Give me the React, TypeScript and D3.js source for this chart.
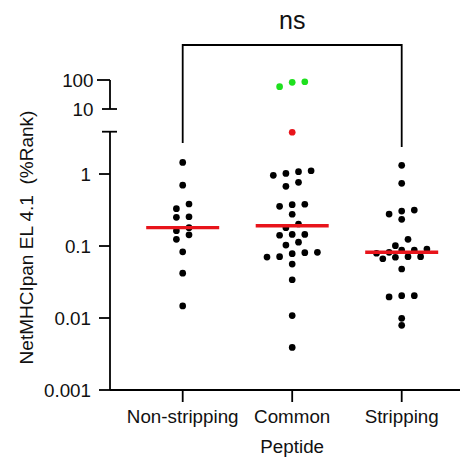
import React from "react";
import * as d3 from "d3";

const categories = ["Non-stripping", "Common", "Stripping"];
const nonStripping = [1.45, 0.7, 0.383, 0.33, 0.255, 0.25, 0.18, 0.163, 0.143, 0.124, 0.083, 0.042, 0.0147];
const commonBlack = [1.11, 1.076, 1.02, 0.959, 0.767, 0.675, 0.38, 0.375, 0.356, 0.276, 0.202, 0.18, 0.145, 0.145, 0.141, 0.113, 0.103, 0.0818, 0.0809, 0.0783, 0.0711, 0.0703, 0.0562, 0.034, 0.0108, 0.0039];
const commonRed = [3.8];
const commonGreen = [83, 87, 59];
const stripping = [1.32, 0.743, 0.316, 0.306, 0.278, 0.235, 0.124, 0.101, 0.0906, 0.0879, 0.0879, 0.0818, 0.0793, 0.071, 0.071, 0.0698, 0.0665, 0.0479, 0.0204, 0.0204, 0.0196, 0.0099, 0.0079];
const lowerTicks = [1, 0.1, 0.01, 0.001];
const lowerTickLabels = ["1", "0.1", "0.01", "0.001"];
const upperTicks = [100, 10];
const upperTickLabels = ["100", "10"];
const yTitle = "NetMHCIpan EL 4.1  (%Rank)";
const xTitle = "Peptide";
const sigLabel = "ns";

const W = 468;
const H = 459;
const FONT = "'Liberation Sans', Arial, sans-serif";
const BLACK = "#000";
const RED = "#e8141b";
const GREEN = "#1ee01e";

const axisX = 110;
const axisY = 390;
const xEnd = 460;

const yLower = d3.scaleLog().domain([0.001, 3.87]).range([axisY, 131.7]);
const yUpper = d3.scaleLog().domain([10, 100]).range([109, 80]);
const yOf = (v: number) => (v >= 10 ? yUpper(v) : yLower(v));

const x = d3.scalePoint<string>().domain(categories).range([182.7, 401.7]);

type Pt = { v: number; color: string; y: number; dx: number };

function layout(points: { v: number; color: string }[]): Pt[] {
  const pts: Pt[] = points.map((p) => ({ ...p, y: yOf(p.v), dx: 0 }));
  pts.sort((a, b) => a.y - b.y);
  const rows: Pt[][] = [];
  let cur: Pt[] = [];
  let start = -Infinity;
  for (const p of pts) {
    if (p.y - start > 6.5) {
      if (cur.length) rows.push(cur);
      cur = [p];
      start = p.y;
    } else cur.push(p);
  }
  if (cur.length) rows.push(cur);
  const step = 12.6;
  const placed: Pt[] = [];
  for (const row of rows) {
    row.sort((a, b) => a.v - b.v);
    const n = row.length;
    const base = row.map((_, i) => (i - (n - 1) / 2) * step);
    const shifts = [0, step / 2, -step / 2, step, -step];
    let chosen = 0;
    for (const s of shifts) {
      const ok = row.every((p, i) =>
        placed.every((q) => Math.hypot(base[i] + s - q.dx, p.y - q.y) >= 6.4)
      );
      if (ok) {
        chosen = s;
        break;
      }
    }
    row.forEach((p, i) => {
      p.dx = base[i] + chosen;
      placed.push(p);
    });
  }
  return pts;
}

const groups = [
  { cat: categories[0], pts: nonStripping.map((v) => ({ v, color: BLACK })) },
  {
    cat: categories[1],
    pts: [
      ...commonBlack.map((v) => ({ v, color: BLACK })),
      ...commonRed.map((v) => ({ v, color: RED })),
      ...commonGreen.map((v) => ({ v, color: GREEN })),
    ],
  },
  { cat: categories[2], pts: stripping.map((v) => ({ v, color: BLACK })) },
];

export default function App() {
  const sw = 1.8;
  return (
    <svg width={W} height={H} style={{ position: "absolute", left: 0, top: 0, background: "#fff" }} fontFamily={FONT}>
      <rect x={0} y={0} width={W} height={H} fill="#fff" />
      <path
        d={`M${x(categories[0])},143 V45 H${x(categories[2])} V147`}
        fill="none"
        stroke={BLACK}
        strokeWidth={sw}
      />
      <text x={x(categories[1])} y={28.5} fontSize={25} textAnchor="middle" fill="#111">
        {sigLabel}
      </text>
      <line x1={axisX} x2={axisX} y1={axisY} y2={yLower(3.87)} stroke={BLACK} strokeWidth={sw} />
      <line x1={axisX - 8} x2={axisX + 7} y1={yLower(3.87)} y2={yLower(3.87)} stroke={BLACK} strokeWidth={sw} />
      {lowerTicks.map((t, i) => (
        <g key={"lt" + i}>
          <line x1={axisX - 11} x2={axisX} y1={yLower(t)} y2={yLower(t)} stroke={BLACK} strokeWidth={sw} />
          <text x={91} y={yLower(t)} dy="0.36em" fontSize={18.8} textAnchor="end" fill="#111">
            {lowerTickLabels[i]}
          </text>
        </g>
      ))}
      <line x1={axisX} x2={axisX} y1={yUpper(10)} y2={yUpper(100)} stroke={BLACK} strokeWidth={sw} />
      <line x1={axisX - 8} x2={axisX + 7} y1={yUpper(10)} y2={yUpper(10)} stroke={BLACK} strokeWidth={sw} />
      <line x1={axisX - 13} x2={axisX} y1={yUpper(100)} y2={yUpper(100)} stroke={BLACK} strokeWidth={sw} />
      {upperTicks.map((t, i) => (
        <text key={"ut" + i} x={93.5} y={yUpper(t)} dy="0.36em" fontSize={18.8} textAnchor="end" fill="#111">
          {upperTickLabels[i]}
        </text>
      ))}
      <line x1={axisX} x2={xEnd} y1={axisY} y2={axisY} stroke={BLACK} strokeWidth={sw} />
      {categories.map((c) => (
        <g key={c}>
          <line x1={x(c)} x2={x(c)} y1={axisY} y2={axisY + 12} stroke={BLACK} strokeWidth={sw} />
          <text x={x(c)} y={423} fontSize={18.8} textAnchor="middle" fill="#111">
            {c}
          </text>
        </g>
      ))}
      <text x={x(categories[1])} y={453} fontSize={18.8} textAnchor="middle" fill="#111">
        {xTitle}
      </text>
      <text
        transform={`translate(33,237.5) rotate(-90)`}
        fontSize={19}
        textAnchor="middle"
        fill="#111"
        style={{ whiteSpace: "pre" }}
      >
        {yTitle}
      </text>
      {groups.map((g) => {
        const cx = x(g.cat) as number;
        const pts = layout(g.pts);
        const med = d3.median(g.pts.map((p) => p.v)) as number;
        return (
          <g key={g.cat}>
            {pts.map((p, i) => (
              <circle key={i} cx={cx + p.dx} cy={p.y} r={3.35} fill={p.color} />
            ))}
            <line x1={cx - 36.5} x2={cx + 36.5} y1={yLower(med)} y2={yLower(med)} stroke={RED} strokeWidth={3.4} />
          </g>
        );
      })}
    </svg>
  );
}
